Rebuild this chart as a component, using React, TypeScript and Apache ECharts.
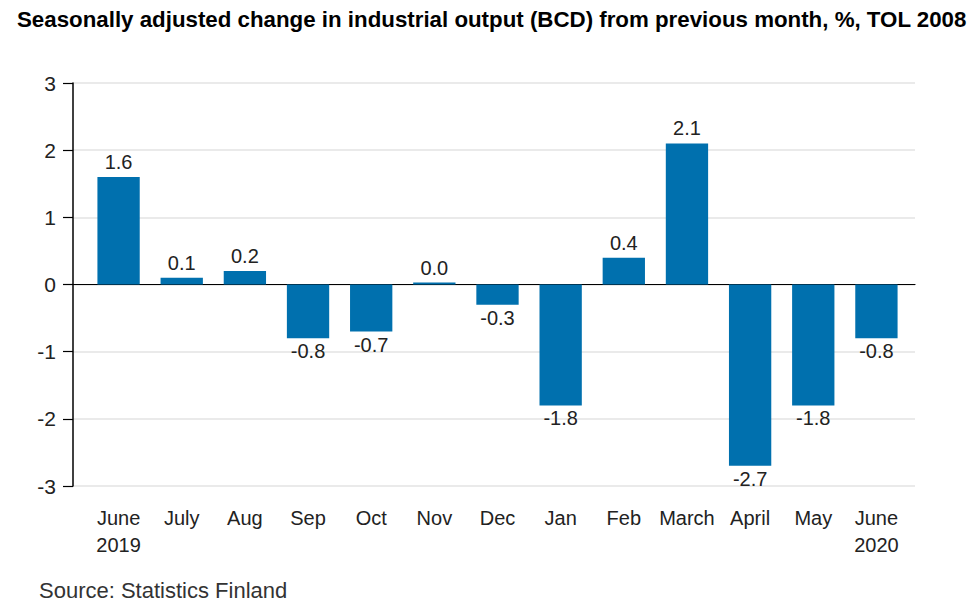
import React, { useEffect, useRef } from "react";
import * as echarts from "echarts";

const months = [
  "June\n2019",
  "July",
  "Aug",
  "Sep",
  "Oct",
  "Nov",
  "Dec",
  "Jan",
  "Feb",
  "March",
  "April",
  "May",
  "June\n2020",
];
const changes = [1.6, 0.1, 0.2, -0.8, -0.7, 0.0, -0.3, -1.8, 0.4, 2.1, -2.7, -1.8, -0.8];
const yTicks = [-3, -2, -1, 0, 1, 2, 3];

const FONT = "Arial, 'Liberation Sans', sans-serif";

const App: React.FC = () => {
  const chartRef = useRef<HTMLDivElement>(null);

  useEffect(() => {
    const chart = echarts.init(chartRef.current!, null, { renderer: "svg" });

    const option: echarts.EChartsOption = {
      animation: false,
      backgroundColor: "#fff",
      textStyle: { fontFamily: FONT },
      title: [
        {
          text: "Seasonally adjusted change in industrial output (BCD) from previous month, %, TOL 2008",
          left: 12,
          top: 3,
          textStyle: { fontSize: 22.3, fontWeight: "bold", color: "#000", fontFamily: FONT },
        },
        {
          text: "Source: Statistics Finland",
          left: 34,
          top: 574,
          textStyle: { fontSize: 22, fontWeight: "normal", color: "#333", fontFamily: FONT },
        },
      ],
      grid: [
        { left: 73, right: 61, top: 83, bottom: 124 },
        { left: 87, right: 68, top: 83, bottom: 124 },
      ],
      xAxis: [
        {
          type: "value",
          gridIndex: 0,
          min: 0,
          max: 1,
          axisLine: { show: true, onZero: true, lineStyle: { color: "#000", width: 1.2 } },
          axisTick: { show: false },
          axisLabel: { show: false },
          splitLine: { show: false },
        },
        {
          type: "category",
          gridIndex: 1,
          data: months,
          axisLine: { show: false, onZero: false },
          axisTick: { show: false },
          axisLabel: {
            interval: 0,
            margin: 18,
            fontSize: 20,
            lineHeight: 27,
            color: "#222",
            fontFamily: FONT,
            verticalAlign: "top",
          },
        },
      ],
      yAxis: [
        {
          type: "value",
          gridIndex: 0,
          min: yTicks[0],
          max: yTicks[yTicks.length - 1],
          interval: 1,
          axisLine: { show: true, lineStyle: { color: "#000", width: 1.5 } },
          axisTick: { show: true, length: 10, lineStyle: { color: "#000", width: 1.2 } },
          axisLabel: { fontSize: 21, color: "#222", margin: 17, fontFamily: FONT },
          splitLine: { show: true, lineStyle: { color: "#e3e3e3", width: 1.5 } },
        },
        {
          type: "value",
          gridIndex: 1,
          min: yTicks[0],
          max: yTicks[yTicks.length - 1],
          interval: 1,
          show: false,
          splitLine: { show: false },
        },
      ],
      series: [
        {
          type: "bar",
          xAxisIndex: 1,
          yAxisIndex: 1,
          barWidth: "67%",
          barMinHeight: 2,
          itemStyle: { color: "#0070AE" },
          data: changes.map((v) => ({
            value: v,
            label: {
              show: true,
              position: v < 0 ? "bottom" : "top",
              distance: v < 0 ? 3 : 5,
              formatter: v.toFixed(1),
              fontSize: 20,
              color: "#222",
              fontFamily: FONT,
            },
          })),
          z: 1,
        },
      ],
    };

    chart.setOption(option);

    return () => {
      chart.dispose();
    };
  }, []);

  return <div ref={chartRef} style={{ width: "976px", height: "610px", margin: "-8px" }} />;
};

export default App;
